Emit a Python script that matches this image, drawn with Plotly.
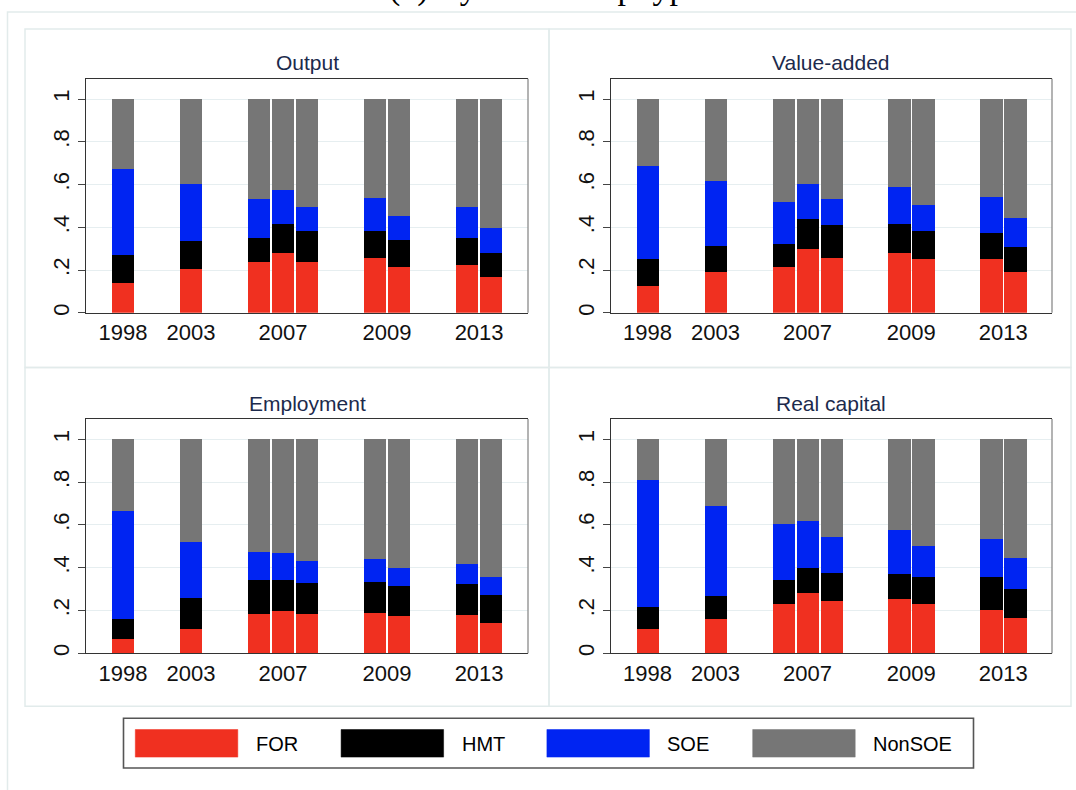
import plotly.graph_objects as go

# ---------------- data ----------------
years = ["1998", "2003", "2007", "2009", "2013"]
bars_per_year = [1, 1, 3, 2, 2]
ownership = ["FOR", "HMT", "SOE", "NonSOE"]
panel_titles = ["Output", "Value-added", "Employment", "Real capital"]

output_for = [0.139, 0.207, 0.237, 0.283, 0.238, 0.259, 0.218, 0.227, 0.168]
output_hmt = [0.135, 0.129, 0.113, 0.136, 0.145, 0.124, 0.126, 0.122, 0.114]
output_soe = [0.399, 0.270, 0.183, 0.157, 0.112, 0.156, 0.109, 0.146, 0.115]
output_nonsoe = [0.327, 0.394, 0.467, 0.424, 0.505, 0.461, 0.547, 0.505, 0.603]

va_for = [0.126, 0.193, 0.215, 0.299, 0.259, 0.283, 0.252, 0.252, 0.192]
va_hmt = [0.125, 0.123, 0.109, 0.142, 0.155, 0.133, 0.134, 0.123, 0.118]
va_soe = [0.437, 0.301, 0.195, 0.163, 0.122, 0.176, 0.122, 0.169, 0.134]
va_nonsoe = [0.312, 0.383, 0.481, 0.396, 0.464, 0.408, 0.492, 0.456, 0.556]

emp_for = [0.064, 0.115, 0.181, 0.195, 0.181, 0.189, 0.175, 0.178, 0.143]
emp_hmt = [0.097, 0.145, 0.160, 0.146, 0.148, 0.143, 0.141, 0.146, 0.128]
emp_soe = [0.503, 0.259, 0.133, 0.127, 0.102, 0.107, 0.084, 0.095, 0.086]
emp_nonsoe = [0.336, 0.481, 0.526, 0.532, 0.569, 0.561, 0.600, 0.581, 0.643]

cap_for = [0.115, 0.158, 0.229, 0.279, 0.245, 0.254, 0.229, 0.203, 0.164]
cap_hmt = [0.102, 0.110, 0.114, 0.118, 0.132, 0.118, 0.126, 0.155, 0.135]
cap_soe = [0.594, 0.420, 0.260, 0.222, 0.164, 0.202, 0.144, 0.174, 0.146]
cap_nonsoe = [0.189, 0.312, 0.397, 0.381, 0.459, 0.426, 0.501, 0.468, 0.555]

y_tickvals = [0, 0.2, 0.4, 0.6, 0.8, 1]
y_ticktext = ["0", ".2", ".4", ".6", ".8", "1"]

# ---------------- style ----------------
colors = ["#f03020", "#000000", "#0024f2", "#767676"]
W, H = 1076, 790
FONT = "Liberation Sans, Arial, Helvetica, sans-serif"
GROUP_GAP = 1.84
BAR_WIDTH = 0.93
panel_light = "#e2ebeb"

panels = [
    [output_for, output_hmt, output_soe, output_nonsoe],
    [va_for, va_hmt, va_soe, va_nonsoe],
    [emp_for, emp_hmt, emp_soe, emp_nonsoe],
    [cap_for, cap_hmt, cap_soe, cap_nonsoe],
]

# bar positions: bars within a year touch, gaps between years
positions, tick_pos = [], []
pos = 0.0
for n in bars_per_year:
    grp = []
    for _ in range(n):
        grp.append(pos)
        pos += 1
    positions.extend(grp)
    tick_pos.append(sum(grp) / len(grp))
    pos += GROUP_GAP

# pixel layout of plot areas (left, top, right, bottom)
areas = [
    (86, 79, 528, 314),
    (610.7, 79, 1052, 314),
    (86, 420.7, 528, 655.7),
    (610.7, 420.7, 1052, 655.7),
]


def px(x):
    return x / W


def py(y):
    return 1 - y / H


fig = go.Figure()
layout = dict(
    width=W, height=H,
    margin=dict(l=0, r=0, t=0, b=0),
    paper_bgcolor="white", plot_bgcolor="white",
    barmode="stack", bargap=0, showlegend=False,
    font=dict(family=FONT, color="#000"),
)
shapes, annotations = [], []

for i, (series, title, area) in enumerate(zip(panels, panel_titles, areas)):
    ax = "" if i == 0 else str(i + 1)
    for name, vals, col in zip(ownership, series, colors):
        fig.add_trace(go.Bar(
            x=positions, y=vals, name=name, width=BAR_WIDTH,
            marker=dict(color=col, line=dict(width=0)),
            xaxis="x" + ax, yaxis="y" + ax, showlegend=False,
        ))
    l, t, r, b = area
    layout["xaxis" + ax] = dict(
        domain=[px(l), px(r)], anchor="y" + ax,
        range=[-1.54, positions[-1] + 1.54],
        tickvals=tick_pos, ticktext=years, ticks="",
        tickfont=dict(size=22, color="#111"),
        showgrid=False, zeroline=False,
        showline=True, linecolor="#333", linewidth=1.3, mirror=True,
    )
    layout["yaxis" + ax] = dict(
        domain=[py(b), py(t)], anchor="x" + ax,
        range=[0, 1.095],
        tickvals=y_tickvals, ticktext=y_ticktext,
        tickangle=-90, ticks="outside", ticklen=7, tickwidth=1.2,
        tickcolor="#444",
        tickfont=dict(size=22, color="#111"),
        showgrid=True, gridcolor="#e6eef0", gridwidth=1.2,
        zeroline=False,
        showline=True, linecolor="#333", linewidth=1.3, mirror=False,
    )
    # lighter right edge of frame
    shapes.append(dict(type="line", xref="x" + ax + " domain", yref="y" + ax + " domain",
                       x0=1, x1=1, y0=0, y1=1, line=dict(color="#8a8a8a", width=1.3)))
    annotations.append(dict(
        text=title, x=px((l + r) / 2), y=py(63 + (t - 79)), xref="paper", yref="paper",
        xanchor="center", yanchor="middle", showarrow=False,
        font=dict(size=21, color="#1c2a4c", family=FONT),
    ))

# outer frame and panel boxes
shapes.append(dict(type="rect", xref="paper", yref="paper",
                   x0=px(7.5), x1=px(1090), y0=py(12), y1=py(820),
                   line=dict(color=panel_light, width=1.5), layer="below"))
for (x0, y0, x1, y1) in [(25, 29, 549, 369), (549, 29, 1071, 369),
                         (25, 369, 549, 709), (549, 369, 1071, 709)]:
    shapes.append(dict(type="rect", xref="paper", yref="paper",
                       x0=px(x0), x1=px(x1), y0=py(y1), y1=py(y0),
                       line=dict(color=panel_light, width=1.5), layer="below"))

# legend box (drawn manually)
shapes.append(dict(type="rect", xref="paper", yref="paper",
                   x0=px(123.5), x1=px(973.5), y0=py(771), y1=py(721),
                   line=dict(color="#555", width=1.6), fillcolor="white"))
for k, (name, col) in enumerate(zip(ownership, colors)):
    sx = 135.3 + k * 205.8
    shapes.append(dict(type="rect", xref="paper", yref="paper",
                       x0=px(sx), x1=px(sx + 102.5), y0=py(760), y1=py(732.3),
                       line=dict(color=col, width=0.5), fillcolor=col))
    annotations.append(dict(text=name, x=px(sx + 118.5), y=py(746.5),
                            xref="paper", yref="paper", xanchor="left", yanchor="middle",
                            showarrow=False, font=dict(size=20, color="#000", family=FONT)))

# cropped super-title at top (cut off at the page edge, as in the reference)
annotations.append(dict(text="(b) By Ownership type", x=px(545), y=py(-12),
                        xref="paper", yref="paper", xanchor="center", yanchor="middle",
                        showarrow=False,
                        font=dict(size=34, color="#000",
                                  family="Liberation Serif, Times New Roman, serif")))

layout["shapes"] = shapes
layout["annotations"] = annotations
fig.update_layout(**layout)
fig.write_html("out.html", config={"displayModeBar": False},
               post_script="document.body.style.margin='0';document.body.style.overflow='hidden';")
